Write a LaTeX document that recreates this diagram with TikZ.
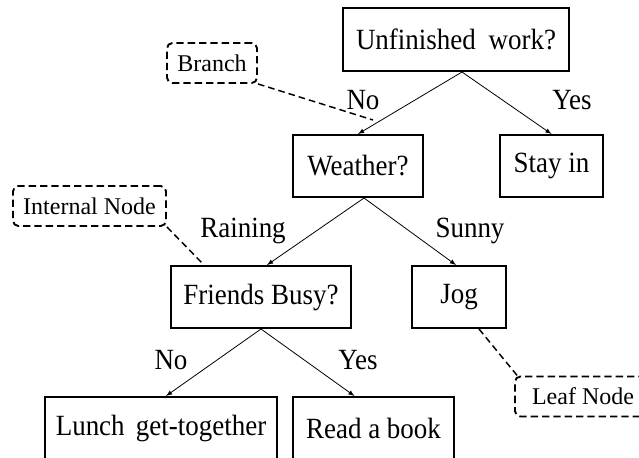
\documentclass[tikz,border=0pt]{standalone}
\usepackage{fontspec}
\setmainfont{Liberation Serif}[FakeStretch=0.92]
\newfontfamily\notefont{Liberation Serif}
\usepackage{tikz}

\begin{document}
\begin{tikzpicture}[x=0.75pt, y=-0.75pt,
    decision/.style={draw, line width=1.5pt, inner sep=0pt, minimum height=46.5pt,
        font=\fontsize{22}{26}\selectfont},
    note/.style={draw, dash pattern=on 5.5pt off 3pt, line width=1.4pt,
        rounded corners=4pt, inner sep=0pt, minimum height=30pt,
        font=\notefont\fontsize{18}{21}\selectfont},
    answer/.style={anchor=base, inner sep=0pt, font=\fontsize{22}{26}\selectfont}]

\useasboundingbox (0,0) rectangle (639,457);
\clip (0,0) rectangle (639,457);

    % questions and outcomes
\node[decision, minimum width=169.5pt, minimum height=47.25pt] (work) at (456,39.5)
    {Unfinished\hspace{0.2em} work?};
\node[decision, minimum width=97.5pt] (weather) at (358,166) {Weather?};
\node[decision, minimum width=77.25pt] (stay) at (551.5,166) {Stay in};
\node[decision, minimum width=135pt] (friends) at (261,297) {Friends Busy?};
\node[decision, minimum width=70.5pt] (jog) at (459,297) {Jog};
\node[decision, minimum width=174pt] (lunch) at (161,428)
    {Lunch\hspace{0.15em} get-together};
\node[decision, minimum width=120.75pt] (book) at (373.5,428) {Read a book};

    % answers on the branches
\node[answer] (no1) at (363,109) {No};
\node[answer] (yes1) at (572,109) {Yes};
\node[answer] (rain) at (243,237) {Raining};
\node[answer] (sun) at (470,237) {Sunny};
\node[answer] (no2) at (171,369) {No};
\node[answer] (yes2) at (358,369) {Yes};

\draw[line width=0.6pt, -latex] ([xshift=4.5pt]work.south)--(weather.north);
\draw[line width=0.6pt, -latex] ([xshift=4.5pt]work.south)--(stay.north);
\draw[line width=0.6pt, -latex] ([xshift=4.5pt]weather.south)--([xshift=4.5pt]friends.north);
\draw[line width=0.6pt, -latex] ([xshift=4.5pt]weather.south)--([xshift=-2.25pt]jog.north);
\draw[line width=0.6pt, -latex] (friends.south)--([xshift=3.75pt]lunch.north);
\draw[line width=0.6pt, -latex] (friends.south)--([xshift=-14.25pt]book.north);

    % notes
\node[note, minimum width=67.5pt] (branch) at (212,63) {Branch};
\node[note, minimum width=114.75pt] (internal) at (89.5,206) {Internal Node};
\node[note, minimum width=102pt] (leaf) at (583,396.5) {Leaf Node};

\coordinate (branchend) at (373,120);
\coordinate (internalend) at (204,265);

\draw[line width=1.1pt, dash pattern=on 5pt off 3pt] (branch.south east)--(branchend);
\draw[line width=1.1pt, dash pattern=on 5pt off 3pt] (internal.south east)--(internalend);
\draw[line width=1.1pt, dash pattern=on 5pt off 3pt] ([xshift=15pt]jog.south)
    --([xshift=4pt,yshift=-2pt]leaf.north west);

\end{tikzpicture}
\end{document}
